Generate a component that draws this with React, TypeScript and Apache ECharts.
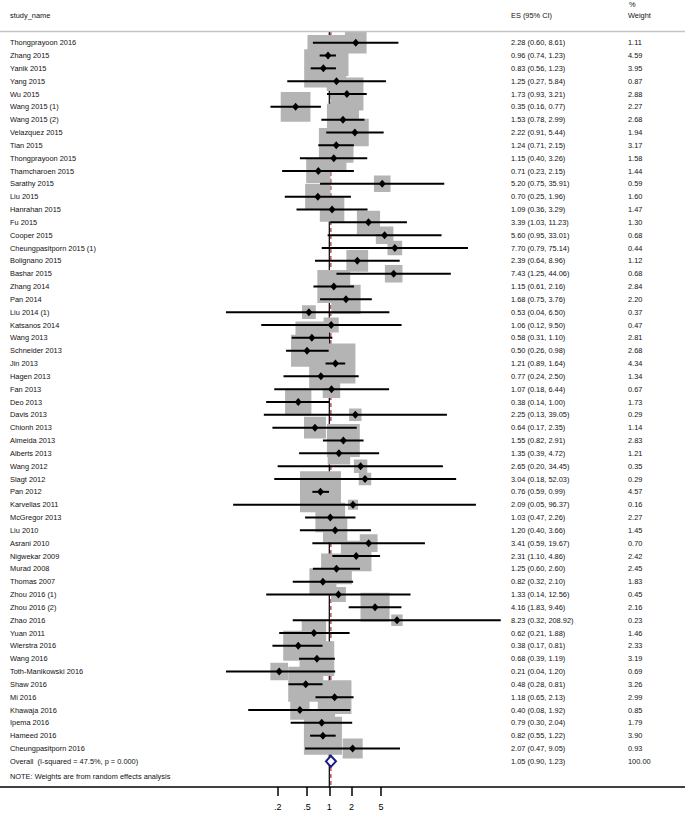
import React, { useEffect, useRef } from "react";
import * as echarts from "echarts";

const studyNames = [
  "Thongprayoon 2016", "Zhang 2015", "Yanik 2015", "Yang 2015", "Wu 2015",
  "Wang 2015 (1)", "Wang 2015 (2)", "Velazquez 2015", "Tian 2015", "Thongprayoon 2015",
  "Thamcharoen 2015", "Sarathy 2015", "Liu 2015", "Hanrahan 2015", "Fu 2015",
  "Cooper 2015", "Cheungpasitporn 2015 (1)", "Bolignano 2015", "Bashar 2015", "Zhang 2014",
  "Pan 2014", "Liu 2014 (1)", "Katsanos 2014", "Wang 2013", "Schneider 2013",
  "Jin 2013", "Hagen 2013", "Fan 2013", "Deo 2013", "Davis 2013",
  "Chionh 2013", "Almeida 2013", "Alberts 2013", "Wang 2012", "Slagt 2012",
  "Pan 2012", "Karvellas 2011", "McGregor 2013", "Liu 2010", "Asrani 2010",
  "Nigwekar 2009", "Murad 2008", "Thomas 2007", "Zhou 2016 (1)", "Zhou 2016 (2)",
  "Zhao 2016", "Yuan 2011", "Wierstra 2016", "Wang 2016", "Toth-Manikowski 2016",
  "Shaw 2016", "Mi 2016", "Khawaja 2016", "Ipema 2016", "Hameed 2016",
  "Cheungpasitporn 2016",
];
const esValues = [
  2.28, 0.96, 0.83, 1.25, 1.73, 0.35, 1.53, 2.22, 1.24, 1.15,
  0.71, 5.20, 0.70, 1.09, 3.39, 5.60, 7.70, 2.39, 7.43, 1.15,
  1.68, 0.53, 1.06, 0.58, 0.50, 1.21, 0.77, 1.07, 0.38, 2.25,
  0.64, 1.55, 1.35, 2.65, 3.04, 0.76, 2.09, 1.03, 1.20, 3.41,
  2.31, 1.25, 0.82, 1.33, 4.16, 8.23, 0.62, 0.38, 0.68, 0.21,
  0.48, 1.18, 0.40, 0.79, 0.82, 2.07,
];
const ciLower = [
  0.60, 0.74, 0.56, 0.27, 0.93, 0.16, 0.78, 0.91, 0.71, 0.40,
  0.23, 0.75, 0.25, 0.36, 1.03, 0.95, 0.79, 0.64, 1.25, 0.61,
  0.75, 0.04, 0.12, 0.31, 0.26, 0.89, 0.24, 0.18, 0.14, 0.13,
  0.17, 0.82, 0.39, 0.20, 0.18, 0.59, 0.05, 0.47, 0.40, 0.59,
  1.10, 0.60, 0.32, 0.14, 1.83, 0.32, 0.21, 0.17, 0.39, 0.04,
  0.28, 0.65, 0.08, 0.30, 0.55, 0.47,
];
const ciUpper = [
  8.61, 1.23, 1.23, 5.84, 3.21, 0.77, 2.99, 5.44, 2.15, 3.26,
  2.15, 35.91, 1.96, 3.29, 11.23, 33.01, 75.14, 8.96, 44.06, 2.16,
  3.76, 6.50, 9.50, 1.10, 0.98, 1.64, 2.50, 6.44, 1.00, 39.05,
  2.35, 2.91, 4.72, 34.45, 52.03, 0.99, 96.37, 2.26, 3.66, 19.67,
  4.86, 2.60, 2.10, 12.56, 9.46, 208.92, 1.88, 0.81, 1.19, 1.20,
  0.81, 2.13, 1.92, 2.04, 1.22, 9.05,
];
const weights = [
  1.11, 4.59, 3.95, 0.87, 2.88, 2.27, 2.68, 1.94, 3.17, 1.58,
  1.44, 0.59, 1.60, 1.47, 1.30, 0.68, 0.44, 1.12, 0.68, 2.84,
  2.20, 0.37, 0.47, 2.81, 2.68, 4.34, 1.34, 0.67, 1.73, 0.29,
  1.14, 2.83, 1.21, 0.35, 0.29, 4.57, 0.16, 2.27, 1.45, 0.70,
  2.42, 2.45, 1.83, 0.45, 2.16, 0.23, 1.46, 2.33, 3.19, 0.69,
  3.26, 2.99, 0.85, 1.79, 3.90, 0.93,
];
const overallLabel = "Overall  (I-squared = 47.5%, p = 0.000)";
const overallES = 1.05;
const overallLower = 0.9;
const overallUpper = 1.23;
const overallWeight = 100.0;
const nullValue = 1;
const tickValues = [0.2, 0.5, 1, 2, 5];
const tickLabels = [".2", ".5", "1", "2", "5"];
const headerStudy = "study_name";
const headerES = "ES (95% CI)";
const headerPct = "%";
const headerWeight = "Weight";
const noteText = "NOTE: Weights are from random effects analysis";

const W = 685;
const H = 814;
const FONT = "'Liberation Sans', Arial, Helvetica, sans-serif";
const FS = 7.4;
const TEXT_COLOR = "#111111";
// pixel mapping of the log axis: x(1) = 329.3, 32.1 px per natural-log unit
const PX_ONE = 329.3;
const PX_PER_LN = 32.1;
const AXIS_Y = 787;
const ROW_MIN = -3.325;
const ROW_MAX = 58;
const COL_NAME = 10;
const COL_ES = 511;
const COL_W = 628;

const fmt = (v: number) => v.toFixed(2);

export default function App() {
  const ref = useRef<HTMLDivElement>(null);
  useEffect(() => {
    if (!ref.current) return;
    const chart = echarts.init(ref.current, undefined, { renderer: "svg", width: W, height: H });
    const n = studyNames.length;
    const overallRow = n;
    const xMin = Math.exp(-PX_ONE / PX_PER_LN);
    const xMax = Math.exp((W - PX_ONE) / PX_PER_LN);

    const boxData = esValues.map((v, i) => [v, i, weights[i]]);
    const ciData = esValues.map((v, i) => [ciLower[i], ciUpper[i], i]);
    const pointData = esValues.map((v, i) => [v, i]);
    const textRows = studyNames.map((name, i) => ({
      value: [nullValue, i],
      name,
      es: `${fmt(esValues[i])} (${fmt(ciLower[i])}, ${fmt(ciUpper[i])})`,
      w: fmt(weights[i]),
    }));
    textRows.push({
      value: [nullValue, overallRow],
      name: overallLabel,
      es: `${fmt(overallES)} (${fmt(overallLower)}, ${fmt(overallUpper)})`,
      w: fmt(overallWeight),
    });

    const topRow = -0.83;
    const textStyle = (text: string) => ({
      text,
      fill: TEXT_COLOR,
      fontSize: FS,
      fontFamily: FONT,
      align: "left",
      verticalAlign: "middle",
    });

    chart.setOption({
      animation: false,
      backgroundColor: "#ffffff",
      grid: { left: 0, right: 0, top: 0, height: AXIS_Y, containLabel: false },
      xAxis: {
        type: "log",
        logBase: 10,
        position: "bottom",
        min: xMin,
        max: xMax,
        splitLine: { show: false },
        axisLine: { show: true, onZero: false, lineStyle: { color: "#000", width: 1.6 } },
        axisTick: {
          show: true,
          customValues: tickValues,
          length: 9,
          lineStyle: { color: "#000", width: 1.5 },
        },
        axisLabel: {
          show: true,
          customValues: tickValues,
          margin: 15,
          fontSize: 9,
          fontFamily: FONT,
          color: "#000",
          formatter: (v: number) => {
            const idx = tickValues.findIndex((t) => Math.abs(t - v) < 1e-6);
            return idx >= 0 ? tickLabels[idx] : "";
          },
        },
      },
      yAxis: {
        type: "value",
        inverse: true,
        min: ROW_MIN,
        max: ROW_MAX,
        show: false,
        splitLine: { show: false },
      },
      graphic: [
        { type: "text", x: COL_NAME, y: 15, style: textStyle(headerStudy) },
        { type: "text", x: COL_ES, y: 15, style: textStyle(headerES) },
        { type: "text", x: COL_W + 1, y: 4, style: textStyle(headerPct) },
        { type: "text", x: COL_W, y: 15, style: textStyle(headerWeight) },
        {
          type: "line",
          shape: { x1: 0, y1: 31.5, x2: W, y2: 31.5 },
          style: { stroke: "#c4c4c4", lineWidth: 1.5 },
          z: 10,
        },
        { type: "text", x: COL_NAME, y: 776.5, style: textStyle(noteText) },
      ],
      series: [
        {
          type: "custom",
          name: "reference lines",
          z: 1,
          data: [[nullValue, topRow, ROW_MAX, 0], [overallES, topRow, ROW_MAX, 1]],
          renderItem: (params: any, api: any) => {
            const x = api.value(0);
            const p1 = api.coord([x, api.value(1)]);
            const p2 = api.coord([x, api.value(2)]);
            const isOverall = api.value(3) === 1;
            return {
              type: "line",
              shape: { x1: p1[0], y1: p1[1], x2: p2[0], y2: p2[1] },
              style: isOverall
                ? { stroke: "#b0262b", lineWidth: 1.2, lineDash: [4, 3] }
                : { stroke: "#000", lineWidth: 1.2 },
            };
          },
        },
        {
          type: "scatter",
          name: "weight boxes",
          z: 2,
          data: boxData,
          symbol: "rect",
          symbolSize: (v: number[]) => 17.8 * Math.sqrt(v[2]),
          itemStyle: { color: "#b4b4b4", borderColor: "#b4b4b4", borderWidth: 2.9, opacity: 1 },
          emphasis: { disabled: true },
        },
        {
          type: "custom",
          name: "confidence intervals",
          z: 3,
          data: ciData,
          renderItem: (params: any, api: any) => {
            const row = api.value(2);
            const p1 = api.coord([api.value(0), row]);
            const p2 = api.coord([api.value(1), row]);
            return {
              type: "line",
              shape: { x1: p1[0], y1: p1[1], x2: p2[0], y2: p2[1] },
              style: { stroke: "#000", lineWidth: 2 },
            };
          },
        },
        {
          type: "scatter",
          name: "estimates",
          z: 4,
          data: pointData,
          symbol: "diamond",
          symbolSize: [7, 8],
          itemStyle: { color: "#000", opacity: 1 },
          emphasis: { disabled: true },
        },
        {
          type: "custom",
          name: "overall",
          z: 5,
          data: [[overallLower, overallES, overallUpper, overallRow]],
          renderItem: (params: any, api: any) => {
            const row = api.value(3);
            const l = api.coord([api.value(0), row]);
            const c = api.coord([api.value(1), row]);
            const r = api.coord([api.value(2), row]);
            const h = 5.5;
            return {
              type: "polygon",
              shape: {
                points: [
                  [l[0], l[1]],
                  [c[0], c[1] - h],
                  [r[0], r[1]],
                  [c[0], c[1] + h],
                ],
              },
              style: { fill: "#ffffff", stroke: "#1c1c8a", lineWidth: 2 },
            };
          },
        },
        {
          type: "custom",
          name: "labels",
          z: 6,
          data: textRows,
          renderItem: (params: any, api: any) => {
            const item = textRows[params.dataIndex];
            const y = api.coord([api.value(0), api.value(1)])[1];
            return {
              type: "group",
              children: [
                { type: "text", x: COL_NAME, y, style: textStyle(item.name) },
                { type: "text", x: COL_ES, y, style: textStyle(item.es) },
                { type: "text", x: COL_W, y, style: textStyle(item.w) },
              ],
            };
          },
        },
      ],
    });
    return () => chart.dispose();
  }, []);
  return (
    <div
      ref={ref}
      style={{ position: "absolute", left: 0, top: 0, width: W, height: H, background: "#fff" }}
    />
  );
}
